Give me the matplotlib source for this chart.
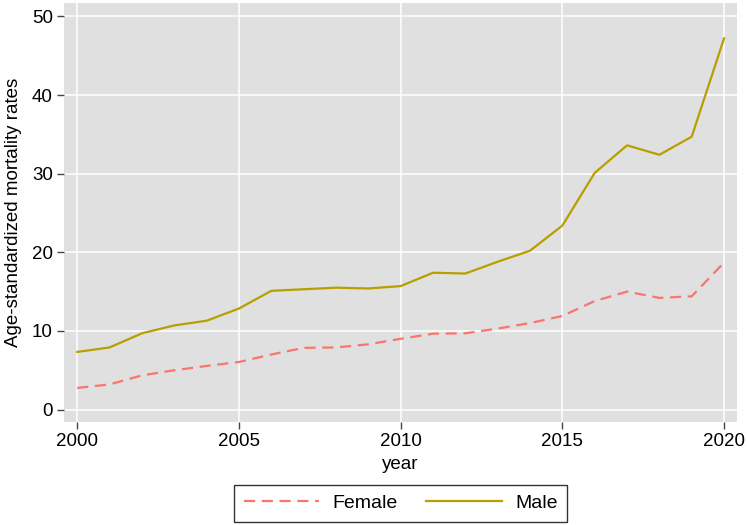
import matplotlib
matplotlib.use("Agg")
import matplotlib.pyplot as plt

plt.rcParams['font.family'] = ['Liberation Sans', 'DejaVu Sans']

# data
years = list(range(2000, 2021))
female = [2.75, 3.2, 4.35, 5.0, 5.55, 6.05, 7.0, 7.85, 7.9, 8.3, 9.0,
          9.65, 9.7, 10.3, 11.0, 11.9, 13.8, 15.0, 14.2, 14.4, 18.7]
male = [7.33, 7.9, 9.7, 10.7, 11.3, 12.85, 15.1, 15.3, 15.5, 15.4, 15.7,
        17.4, 17.3, 18.8, 20.2, 23.4, 30.1, 33.6, 32.4, 34.7, 47.2]
xticks = [2000, 2005, 2010, 2015, 2020]
yticks = [0, 10, 20, 30, 40, 50]

fig = plt.figure(figsize=(7.47, 5.25), dpi=100)
ax = fig.add_axes([64/747, 1 - 422/525, 673/747, 419/525])
ax.set_facecolor('#e0e0e0')

ax.plot(years, female, color='#F8766D', lw=1.6, dashes=(5, 3), label='Female')
ax.plot(years, male, color='#B79F00', lw=1.6, label='Male')

ax.set_xlim(1999.59, 2020.4)
ax.set_ylim(-1.58, 51.7)
ax.set_xticks(xticks)
ax.set_yticks(yticks)
ax.grid(True, color='white', lw=1.1)
ax.set_axisbelow(True)
for s in ax.spines.values():
    s.set_visible(False)
ax.tick_params(axis='both', length=5, width=1, color='#444444', labelsize=13.5, pad=3)

ax.set_xlabel('year', fontsize=13.5, labelpad=4)
ax.set_ylabel('Age-standardized mortality rates', fontsize=13.5, labelpad=7)

# legend centred under the panel
leg = fig.legend(loc='lower center', bbox_to_anchor=(400.5/747, 3/525), ncol=2, fontsize=14,
                 frameon=True, fancybox=False, edgecolor='black', handlelength=3.9,
                 columnspacing=1.5, borderpad=0.5, handletextpad=0.65, borderaxespad=0)
leg.get_frame().set_linewidth(1.0)

fig.savefig('out.png', dpi=100)
